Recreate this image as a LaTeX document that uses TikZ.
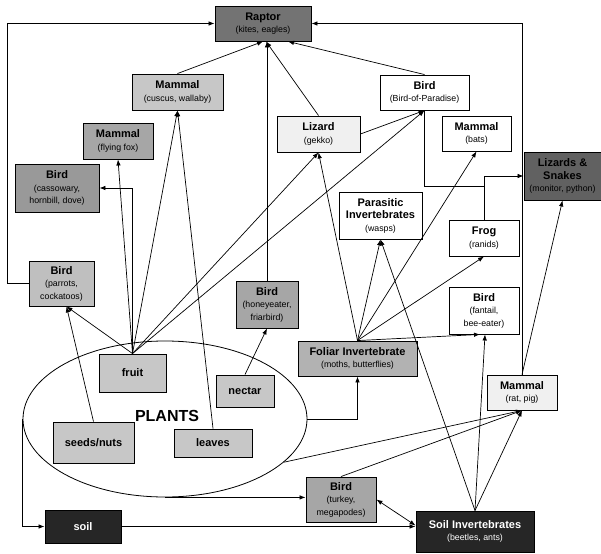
\documentclass[tikz,border=0pt]{standalone}
\usepackage{fontspec}
\setmainfont{Liberation Sans}
\usetikzlibrary{arrows.meta,calc,shapes.geometric}
\newcommand\ttl[1]{{\fontsize{11}{12.5}\selectfont\bfseries #1}}
\begin{document}
\begin{tikzpicture}[x=1pt,y=-1pt,
  bx/.style={draw, line width=0.9pt, align=center, inner sep=0pt, font=\fontsize{8.8}{12.5}\selectfont},
  ar/.style={line width=0.7pt, -{Latex[length=6pt,width=4.5pt]}},
  dar/.style={line width=0.7pt, {Latex[length=6pt,width=4.5pt]}-{Latex[length=6pt,width=4.5pt]}},
  ln/.style={line width=0.7pt},
  ]
\useasboundingbox (0,0) rectangle (601,553);
\node[ellipse, draw, line width=0.8pt, minimum width=284pt, minimum height=156pt, inner sep=0pt] (plants) at (165,419) {};
\node[font=\fontsize{16}{18}\selectfont\bfseries] (plantslbl) at (167,416) {PLANTS};

\node[bx, fill=black!55, minimum width=96pt, minimum height=35pt] (raptor) at (263,23.5) {\ttl{Raptor}\\(kites, eagles)};
\node[bx, fill=black!22, minimum width=91pt, minimum height=36pt] (cuscus) at (177.5,92) {\ttl{Mammal}\\(cuscus, wallaby)};
\node[bx, fill=black!35, minimum width=70pt, minimum height=36pt] (ffox) at (118,141) {\ttl{Mammal}\\(flying fox)};
\node[bx, fill=black!40, minimum width=84pt, minimum height=48pt] (cass) at (57,188) {\ttl{Bird}\\(cassowary,\\hornbill, dove)};
\node[bx, fill=black!25, minimum width=65pt, minimum height=45pt] (parrots) at (61.5,283.5) {\ttl{Bird}\\(parrots,\\cockatoos)};
\node[bx, fill=black!35, minimum width=62pt, minimum height=47pt] (honey) at (267,304.5) {\ttl{Bird}\\(honeyeater,\\friarbird)};
\node[bx, fill=black!22, minimum width=67pt, minimum height=38pt] (fruit) at (132.5,373) {\ttl{fruit}};
\node[bx, fill=black!22, minimum width=58pt, minimum height=32pt] (nectar) at (245,391) {\ttl{nectar}};
\node[bx, fill=black!22, minimum width=81pt, minimum height=41pt] (seeds) at (93.5,442.5) {\ttl{seeds/nuts}};
\node[bx, fill=black!22, minimum width=78pt, minimum height=28pt] (leaves) at (213,443) {\ttl{leaves}};
\node[bx, fill=black!30, minimum width=119pt, minimum height=35pt] (foliar) at (357.5,358.5) {\ttl{Foliar Invertebrate}\\(moths, butterflies)};
\node[bx, fill=black!6, minimum width=83pt, minimum height=36pt] (lizard) at (318.5,134) {\ttl{Lizard}\\(gekko)};
\node[bx, fill=white, minimum width=89pt, minimum height=35pt] (bop) at (424.5,92.5) {\ttl{Bird}\\(Bird-of-Paradise)};
\node[bx, fill=white, minimum width=69pt, minimum height=35pt] (bats) at (476.5,133.5) {\ttl{Mammal}\\(bats)};
\node[bx, fill=black!62, minimum width=77pt, minimum height=48pt] (lsn) at (562.5,176) {\ttl{Lizards \&}\\\ttl{Snakes}\\(monitor, python)};
\node[bx, fill=white, minimum width=83pt, minimum height=47pt] (para) at (380.5,215.5) {\ttl{Parasitic}\\\ttl{Invertebrates}\\(wasps)};
\node[bx, fill=white, minimum width=70pt, minimum height=36pt] (frog) at (484,238) {\ttl{Frog}\\(ranids)};
\node[bx, fill=white, minimum width=70pt, minimum height=47pt] (fantail) at (484,310.5) {\ttl{Bird}\\(fantail,\\bee-eater)};
\node[bx, fill=black!6, minimum width=70pt, minimum height=35pt] (ratpig) at (522,392.5) {\ttl{Mammal}\\(rat, pig)};
\node[bx, fill=black!35, minimum width=70pt, minimum height=45pt] (turkey) at (341,499.5) {\ttl{Bird}\\(turkey,\\megapodes)};
\node[bx, fill=black!85, text=white, minimum width=118pt, minimum height=41pt] (soilinv) at (475,531.5) {\ttl{Soil Invertebrates}\\(beetles, ants)};
\node[bx, fill=black!85, text=white, minimum width=76pt, minimum height=33pt] (soil) at (83,526.5) {\ttl{soil}};

% connectors
\draw[ar] (parrots.west) -- ++(-21,0) |- (raptor.west);
\draw[ar] (ratpig.north) |- (raptor.east);
\draw[ar] (ratpig.north) -- (lsn.south);
\draw[ar] (cuscus.north) -- (raptor.south);
\draw[ar] (honey.north) -- (honey.north |- raptor.south);
\draw[ar] (lizard.north) -- ($(raptor.south)+(3,0)$);
\draw[ar] (bop.north) -- ($(raptor.south)+(25,0)$);
\draw[ar] (fruit.north) -- (ffox.south);
\draw[ar] (fruit.north) |- (cass.east);
\draw[ar] (fruit.north) -- (cuscus.south);
\draw[ar] (fruit.north) -- (lizard.south);
\draw[ar] (fruit.north) -- (bop.south);
\coordinate (pin) at ($(parrots.south)+(5,0)$);
\draw[ar] (fruit.north) -- (pin);
\draw[ar] (seeds.north) -- (pin);
\draw[ar] (leaves.north) -- (cuscus.south);
\draw[ar] (nectar.north) -- (honey.south);
\draw[ar] (lizard.east) -- (bop.south);
\draw[ar] (foliar.north) -- (lizard.south);
\draw[ar] (foliar.north) -- (para.south);
\draw[ar] (foliar.north) -- (bats.south);
\draw[ar] (foliar.north) -- (frog.south);
\draw[ar] (foliar.north) -- ($(fantail.south)+(-4,0)$);
\draw[ar] (soilinv.north) -- (para.south);
\draw[ar] (soilinv.north) -- ($(fantail.south)+(1,0)$);
\draw[ar] (soilinv.north) -- (ratpig.south);
\draw[dar] (turkey.east) -- ($(soilinv.west)+(0,-6)$);
\draw[ar] (soil.east) -- (soil.east -| soilinv.west);
\draw[ar] (plants.west) |- (soil.west);
\draw[ar] (plants.south) -- (plants.south -| turkey.west);
\draw[ar] (plants.east) -| (foliar.south);
\draw[ar] (plants.-20) -- (ratpig.south);
\draw[ar] (turkey.north) -- (ratpig.south);
\coordinate (j) at (frog.north |- lsn.west);
\draw[ln] (bop.south) -- ++(0,76) -| (j);
\draw[ar] (frog.north) |- (lsn.west);
\end{tikzpicture}
\end{document}
